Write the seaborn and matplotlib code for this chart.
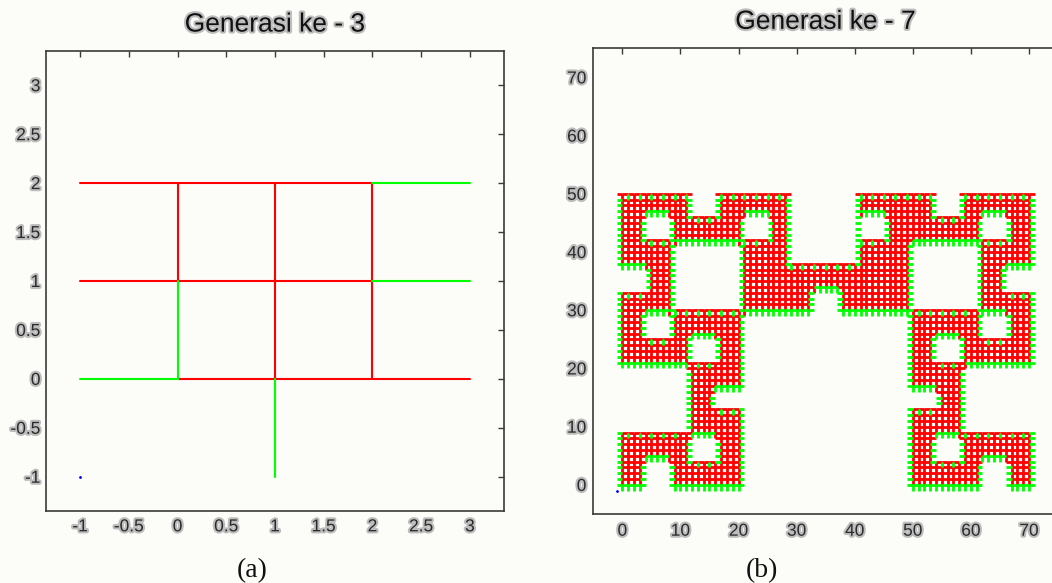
import numpy as np
import pandas as pd
import matplotlib
matplotlib.use("Agg")
import matplotlib.pyplot as plt
import matplotlib.patheffects as pe
from matplotlib.collections import LineCollection
import seaborn as sns

sns.set_style("white")
plt.rcParams["font.family"] = ["Liberation Sans", "DejaVu Sans"]

# ---------------- data ----------------
# Generation 3: unit-lattice segments (x pairs / y pairs)
g3_red_x = [[-1, 2], [-1, 2], [0, 3], [0, 0], [1, 1], [2, 2]]
g3_red_y = [[2, 2], [1, 1], [0, 0], [1, 2], [0, 2], [0, 2]]
g3_green_x = [[2, 3], [2, 3], [-1, 0], [0, 0], [1, 1]]
g3_green_y = [[2, 2], [1, 1], [0, 0], [0, 1], [-1, 0]]
start_point = [-1, -1]

# Generation 7: occupied lattice blocks (x0, x1, y0, y1) and empty holes
g7_fill = [
    (-1, 12, 46, 50), (-1, 21, 41, 46), (16, 29, 46, 50), (21, 29, 41, 46),
    (20, 29, 38, 42), (-1, 9, 37, 41), (4, 9, 33, 37), (-1, 9, 29, 33),
    (-1, 21, 25, 29), (8, 21, 25, 30), (-1, 21, 20, 25), (20, 29, 29, 38),
    (25, 41, 33, 38), (29, 33, 29, 33), (37, 41, 29, 33),
    (40, 54, 46, 50), (40, 50, 38, 46), (49, 71, 41, 46), (58, 71, 46, 50),
    (61, 71, 37, 41), (61, 66, 33, 37), (61, 71, 29, 33), (49, 71, 25, 29),
    (49, 62, 25, 30), (49, 71, 20, 25), (41, 50, 29, 38),
    (11, 21, 16, 20), (11, 16, 13, 16), (11, 21, 9, 13), (-1, 21, -1, 9),
    (49, 59, 16, 20), (54, 59, 13, 16), (49, 59, 9, 13), (49, 71, -1, 9),
]
g7_holes = [
    (4, 8, 42, 46), (21, 25, 42, 46), (4, 8, 25, 29), (12, 16, 21, 25),
    (41, 45, 42, 46), (62, 66, 42, 46), (62, 66, 25, 29), (54, 58, 21, 25),
    (12, 16, 4, 8), (4, 8, -1, 4), (54, 58, 4, 8), (62, 66, -1, 4),
]

x3_ticks = [-1, -0.5, 0, 0.5, 1, 1.5, 2, 2.5, 3]
x3_labels = ["-1", "-0.5", "0", "0.5", "1", "1.5", "2", "2.5", "3"]
x7_ticks = [0, 10, 20, 30, 40, 50, 60, 70]
titles = ["Generasi ke - 3", "Generasi ke - 7"]
captions = ["(a)", "(b)"]

RED, GREEN = "#ff0000", "#00ff00"
BG = "#fcfcf8"
halo = [pe.withStroke(linewidth=3, foreground="#bdbdbd")]

# ---------------- figure ----------------
fig = plt.figure(figsize=(10.52, 5.83), dpi=100, facecolor=BG)
ax1 = fig.add_axes([46 / 1052, 1 - 511 / 583, 458 / 1052, 460 / 583])
ax2 = fig.add_axes([593.3 / 1052, 1 - 514 / 583, 464.7 / 1052, 465.7 / 583])

# --- generation 3 via seaborn ---
rows = []
k = 0
for col, xs, ys in (("red", g3_red_x, g3_red_y), ("green", g3_green_x, g3_green_y)):
    for sx, sy in zip(xs, ys):
        rows.append((sx[0], sy[0], k, col))
        rows.append((sx[1], sy[1], k, col))
        k += 1
df3 = pd.DataFrame(rows, columns=["x", "y", "seg", "col"])
sns.lineplot(data=df3, x="x", y="y", units="seg", hue="col", hue_order=["red", "green"],
             palette={"red": RED, "green": GREEN}, estimator=None, sort=False,
             legend=False, linewidth=1.5, ax=ax1)
ax1.plot([start_point[0]], [start_point[1]], ".", color="blue", markersize=2)

# --- generation 7 lattice ---
X0, X1, Y0, Y1 = -1, 71, -1, 50
nx, ny = X1 - X0, Y1 - Y0
occ = np.zeros((ny, nx), dtype=bool)
for x0, x1, y0, y1 in g7_fill:
    occ[y0 - Y0:y1 - Y0, x0 - X0:x1 - X0] = True
for x0, x1, y0, y1 in g7_holes:
    occ[y0 - Y0:y1 - Y0, x0 - X0:x1 - X0] = False


def filled(x, y):
    i, j = x - X0, y - Y0
    return 0 <= i < nx and 0 <= j < ny and occ[j, i]


red_edges, green_edges = set(), set()
for j in range(ny):
    for i in range(nx):
        if not occ[j, i]:
            continue
        x, y = i + X0, j + Y0
        b, t = filled(x, y - 1), filled(x, y + 1)
        l, r = filled(x - 1, y), filled(x + 1, y)
        bottom = ((x, y), (x + 1, y))
        top = ((x, y + 1), (x + 1, y + 1))
        left = ((x, y), (x, y + 1))
        right = ((x + 1, y), (x + 1, y + 1))
        edges = [top]
        if b:
            edges.append(bottom)
        if l:
            edges.append(left)
        if r:
            edges.append(right)
        red_edges.update(edges)
        # teeth along the outline of every block / hole
        if not b:
            green_edges.add(top)
            if x % 2 == 0:
                green_edges.update([left, right])
        if not t and x % 2 == 1:
            green_edges.add(left)
        if (not l or not r) and y % 2 == 0:
            green_edges.update([top, bottom])
green_edges &= red_edges
red_only = [e for e in red_edges if e not in green_edges]
ax2.add_collection(LineCollection(red_only, colors=RED, linewidths=2.0, capstyle="butt"))
ax2.add_collection(LineCollection(sorted(green_edges), colors=GREEN, linewidths=2.0, capstyle="butt"))
ax2.plot([start_point[0]], [start_point[1]], ".", color="blue", markersize=2)

# --- axes styling ---
for ax, title in zip((ax1, ax2), titles):
    ax.set_facecolor(BG)
    for s in ax.spines.values():
        s.set_visible(True)
        s.set_color("#3a3a3a")
        s.set_linewidth(1.2)
    ax.tick_params(direction="in", top=True, right=True, length=4.5, width=1.0,
                   color="#3a3a3a", labelsize=12.5, labelcolor="#2a2a2a")
    ax.set_xlabel("")
    ax.set_ylabel("")
    t = ax.set_title(title, fontsize=19, color="#111111", pad=14)
    t.set_path_effects(halo)

ax1.set_xlim(-1.35, 3.35)
ax1.set_ylim(-1.35, 3.35)
ax1.set_xticks(x3_ticks, x3_labels)
ax1.set_yticks(x3_ticks, x3_labels)
ax1.tick_params(axis="x", pad=6)
ax1.tick_params(axis="y", pad=4)

ax2.set_xlim(-5, 75)
ax2.set_ylim(-5, 75)
ax2.set_xticks(x7_ticks, [str(v) for v in x7_ticks])
ax2.set_yticks(x7_ticks, [str(v) for v in x7_ticks])
ax2.tick_params(axis="x", pad=7)
ax2.tick_params(axis="y", pad=5)

for ax in (ax1, ax2):
    for lab in ax.get_xticklabels() + ax.get_yticklabels():
        lab.set_path_effects(halo)

fig.text(252 / 1052, 1 - 577 / 583, captions[0], family=["Liberation Serif", "DejaVu Serif"],
         fontsize=20, ha="center", va="baseline", color="#111111")
fig.text(762 / 1052, 1 - 577 / 583, captions[1], family=["Liberation Serif", "DejaVu Serif"],
         fontsize=20, ha="center", va="baseline", color="#111111")

fig.savefig("out.png", dpi=100, facecolor=BG)
